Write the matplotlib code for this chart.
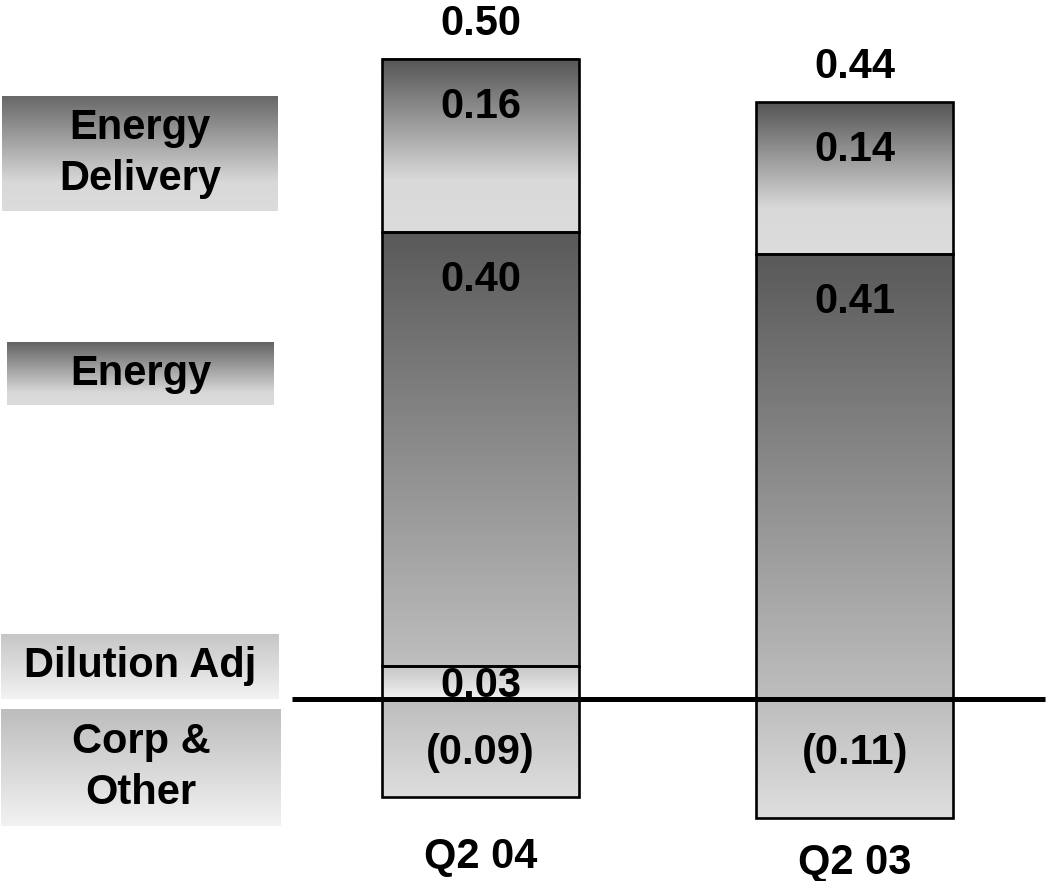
import numpy as np
import matplotlib
matplotlib.use('Agg')
import matplotlib.pyplot as plt
from matplotlib.colors import LinearSegmentedColormap
from matplotlib.patches import Rectangle

plt.rcParams['font.family'] = ['Liberation Sans', 'DejaVu Sans']

quarters = ['Q2 04', 'Q2 03']
dilution = [0.03, 0.00]
energy = [0.40, 0.41]
energy_delivery = [0.16, 0.14]
corp_other = [-0.09, -0.11]
totals = [0.50, 0.44]

segment_names = ['Energy Delivery', 'Energy', 'Dilution Adj', 'Corp & Other']
box_labels = ['Energy\nDelivery', 'Energy', 'Dilution Adj', 'Corp &\nOther']

# vertical gradients, top colour first
ramps = {
    'Energy Delivery': [(0.0, '#555555'), (0.7, '#d9d9d9'), (1.0, '#dcdcdc')],
    'Energy': [(0.0, '#595959'), (1.0, '#bebebe')],
    'Dilution Adj': [(0.0, '#c6c6c6'), (1.0, '#f2f2f2')],
    'Corp & Other': [(0.0, '#bdbdbd'), (1.0, '#dedede')],
}
box_ramps = {
    'Energy Delivery': [(0.0, '#686868'), (0.75, '#d8d8d8'), (1.0, '#dcdcdc')],
    'Energy': [(0.0, '#636363'), (0.8, '#d8d8d8'), (1.0, '#dcdcdc')],
    'Dilution Adj': [(0.0, '#c6c6c6'), (1.0, '#f2f2f2')],
    'Corp & Other': [(0.0, '#bdbdbd'), (1.0, '#f2f2f2')],
}

grad = np.linspace(0, 1, 256).reshape(-1, 1)
FS = 30


def cmap_for(stops):
    return LinearSegmentedColormap.from_list('g', stops)


def gradient_bar(ax, x, bottom, height, width, name):
    lo, hi = min(bottom, bottom + height), max(bottom, bottom + height)
    ax.imshow(grad, cmap=cmap_for(ramps[name]), aspect='auto', origin='upper',
              extent=(x - width / 2, x + width / 2, lo, hi), zorder=1,
              interpolation='bilinear')
    ax.add_patch(Rectangle((x - width / 2, lo), width, hi - lo, fill=False,
                           edgecolor='black', linewidth=1.9, zorder=2))


fig = plt.figure(figsize=(10.47, 8.81), dpi=100)
ax = fig.add_axes([0, 0, 1, 1])

xs = np.arange(len(quarters))
width = 0.526
font = dict(fontsize=FS, fontweight='bold', ha='center', va='center', zorder=3)

for i, x in enumerate(xs):
    base = 0.0
    for name, vals in [('Dilution Adj', dilution), ('Energy', energy),
                       ('Energy Delivery', energy_delivery)]:
        v = vals[i]
        if v == 0:
            continue
        gradient_bar(ax, x, base, v, width, name)
        if name == 'Dilution Adj':
            ax.text(x, base + v * 0.4, f'{v:.2f}', **font)
        else:
            ax.text(x, base + v - 0.044, f'{v:.2f}', **font)
        base += v
    top = base
    gradient_bar(ax, x, 0, corp_other[i], width, 'Corp & Other')
    ax.text(x, -0.05, f'({abs(corp_other[i]):.2f})', **font)
    ax.text(x, top + 0.032, f'{totals[i]:.2f}', **font)
    ax.text(x, -0.146 - 0.005 * i, quarters[i], **font)

# zero line drawn over the bars and labels
ax.plot([-0.503, 1.507], [0, 0], color='black', linewidth=3.6, zorder=4,
        solid_capstyle='butt')

ax.set_xlim(-1.283, 1.5127)
ax.set_ylim(-0.1677, 0.6442)
ax.axis('off')

# series name boxes on the left (pixel boxes: left, top, right, bottom)
W, H = 1047, 881
boxes = [(2, 96, 278, 211), (7, 342, 274, 405), (1, 634, 279, 699), (1, 709, 281, 826)]
for name, label, (l, t, r, b) in zip(segment_names, box_labels, boxes):
    bax = fig.add_axes([l / W, 1 - b / H, (r - l) / W, (b - t) / H])
    bax.imshow(grad, cmap=cmap_for(box_ramps[name]), aspect='auto',
               extent=(0, 1, 0, 1), interpolation='bilinear')
    bax.text(0.5, 0.5, label, transform=bax.transAxes, fontsize=FS,
             fontweight='bold', ha='center', va='center', linespacing=1.36)
    bax.set_xlim(0, 1)
    bax.set_ylim(0, 1)
    bax.axis('off')

fig.savefig('out.png', dpi=100, facecolor='white')
